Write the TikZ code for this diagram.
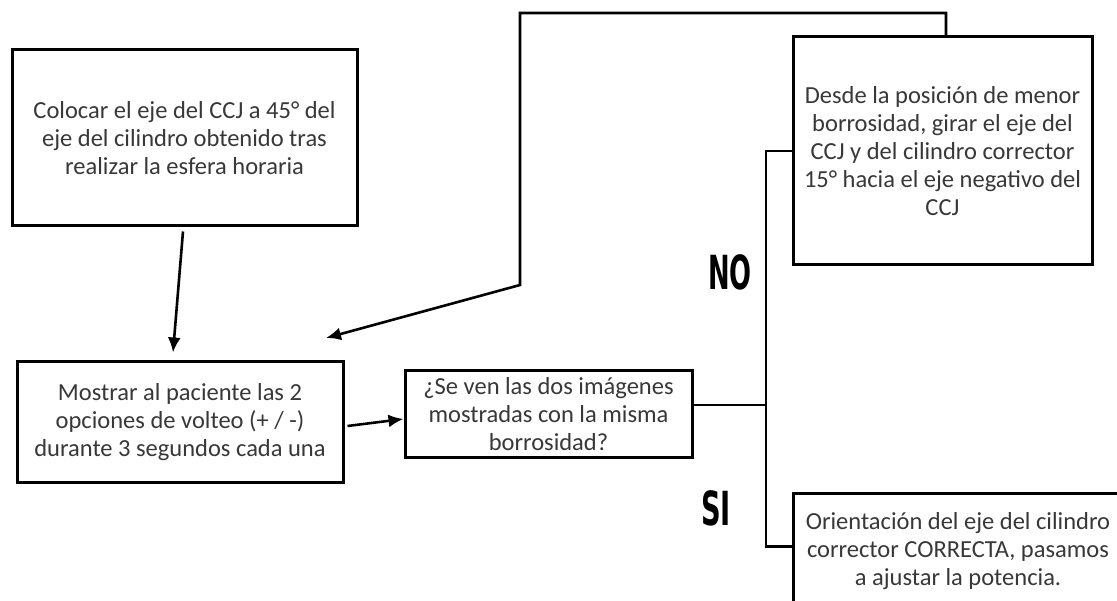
\documentclass[tikz,border=0pt]{standalone}
\usepackage{fontspec}
\setmainfont{Carlito}
\newfontfamily\answerfont{DejaVu Sans}
\usetikzlibrary{arrows.meta,positioning}

\begin{document}
\begin{tikzpicture}[x=1pt, y=-1pt,
    box/.style={draw, line width=3pt, rectangle, align=center, inner sep=0pt, text=black!78, font=\fontsize{24.5}{28}\selectfont},
    arrow/.style={-{Latex[length=15pt, width=13pt]}, line width=2.6pt},
    line/.style={line width=2.6pt},
    answer/.style={font=\answerfont\bfseries\fontsize{47}{47}\selectfont}
]
    \clip (0,0) rectangle (1117,601);
    \fill[white] (0,0) rectangle (1117,601);

    % Steps
    \node[box, minimum width=345pt, minimum height=176pt] (colocar) at (184.5, 138) {Colocar el eje del CCJ a 45° del\\eje del cilindro obtenido tras\\realizar la esfera horaria};
    \node[box, minimum width=326pt, minimum height=121pt] (mostrar) at (180, 422.5) {Mostrar al paciente las 2\\opciones de volteo (+ / -)\\durante 3 segundos cada una};
    \node[box, minimum width=287pt, minimum height=87pt] (pregunta) at (548.5, 414.5) {¿Se ven las dos imágenes\\mostradas con la misma\\borrosidad?};

    % Outcomes
    \node[box, minimum width=299pt, minimum height=228pt] (girar) at (942.5, 151) {Desde la posición de menor\\borrosidad, girar el eje del\\CCJ y del cilindro corrector\\15° hacia el eje negativo del\\CCJ};
    \node[box, minimum width=330pt, minimum height=114pt] (correcta) at (958, 551) {Orientación del eje del cilindro\\corrector CORRECTA, pasamos\\a ajustar la potencia.};

    % Answers
    \node[answer] (no_label) at (730, 272) {\scalebox{0.55}[1]{NO}};
    \node[answer] (si_label) at (716, 508) {\scalebox{0.58}[1]{SI}};

    % Branch
    \coordinate (split) at (766, 405);
    \draw[line] (pregunta.east |- split) -- (split);
    \draw[line] (girar.west) -| (split);
    \draw[line] (split) |- ([yshift=-54pt]correcta.north west);

    % Arrows
    \coordinate (loop_top) at (520, 13);
    \coordinate (loop_bend) at (520, 285);
    \coordinate (loop_end) at (326, 338);
    \draw[arrow] ([xshift=-1.5pt, yshift=-4pt]colocar.south) -- ([xshift=-7pt, yshift=8pt]mostrar.north);
    \draw[arrow] ([xshift=3pt, yshift=-3.5pt]mostrar.east) -- ([yshift=-4.5pt]pregunta.west);
    \draw[arrow] ([xshift=3.5pt]girar.north) |- (loop_top) -- (loop_bend) -- (loop_end);
\end{tikzpicture}
\end{document}
